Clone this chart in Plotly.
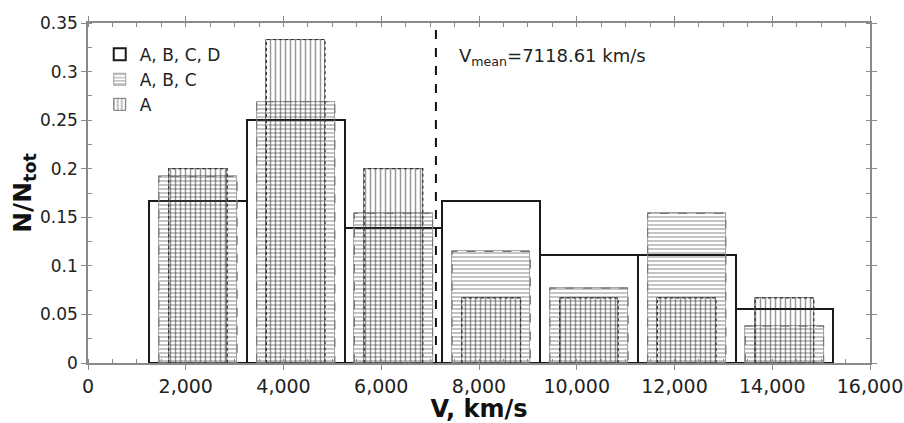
import plotly.graph_objects as go

# ---- data ----
v_centers = [2250, 4250, 6250, 8250, 10250, 12250, 14250]
frac_abcd = [0.167, 0.250, 0.139, 0.167, 0.111, 0.111, 0.056]
frac_abc = [0.192, 0.269, 0.154, 0.115, 0.077, 0.154, 0.038]
frac_a = [0.200, 0.333, 0.200, 0.067, 0.067, 0.067, 0.067]
v_mean = 7118.61
series_names = ["A, B, C, D", "A, B, C", "A"]
x_tickvals = [0, 2000, 4000, 6000, 8000, 10000, 12000, 14000, 16000]

# ---- style ----
W_ABCD, W_ABC, W_A = 2000, 1600, 1200
FONT = "DejaVu Sans"


def outline(centers, heights, width):
    xs, ys = [], []
    for c, h in zip(centers, heights):
        x0, x1 = c - width / 2, c + width / 2
        xs += [x0, x0, x1, x1, x0, None]
        ys += [0, h, h, 0, 0, None]
    return xs, ys


fig = go.Figure()

fig.add_trace(go.Bar(
    x=v_centers, y=frac_abcd, width=[W_ABCD] * len(v_centers), name=series_names[0],
    marker=dict(color="rgba(255,255,255,0)", line=dict(color="#1a1a1a", width=2)),
))
fig.add_trace(go.Bar(
    x=v_centers, y=frac_abc, width=[W_ABC] * len(v_centers), name=series_names[1],
    marker=dict(color="rgba(0,0,0,0)", line=dict(color="#888", width=0.8),
                pattern=dict(shape="-", fgcolor="#555", bgcolor="rgba(0,0,0,0)",
                             size=4, solidity=0.35)),
))
fig.add_trace(go.Bar(
    x=v_centers, y=frac_a, width=[W_A] * len(v_centers), name=series_names[2],
    marker=dict(color="rgba(0,0,0,0)", line=dict(color="#555", width=0.8),
                pattern=dict(shape="|", fgcolor="#333", bgcolor="rgba(0,0,0,0)",
                             size=5, solidity=0.3)),
))

xs, ys = outline(v_centers, frac_abc, W_ABC)
fig.add_trace(go.Scatter(x=xs, y=ys, mode="lines", showlegend=False, hoverinfo="skip",
                         line=dict(color="#777", width=1.2, dash="dash")))
xs, ys = outline(v_centers, frac_a, W_A)
fig.add_trace(go.Scatter(x=xs, y=ys, mode="lines", showlegend=False, hoverinfo="skip",
                         line=dict(color="#333", width=1.2, dash="dot")))

fig.add_trace(go.Scatter(x=[v_mean, v_mean], y=[0, 0.35], mode="lines", showlegend=False,
                         hoverinfo="skip", line=dict(color="#111", width=2, dash="dash")))

fig.add_annotation(x=7540, y=0.315, xref="x", yref="y", xanchor="left", yanchor="middle",
                   showarrow=False,
                   text=f"V<sub>mean</sub>={v_mean:.2f} km/s",
                   font=dict(family=FONT, size=18, color="#222"))

axis_common = dict(
    showgrid=False, zeroline=False, showline=True, linecolor="#8a8a8a", linewidth=1.5,
    mirror="ticks", ticks="outside", ticklen=5, tickcolor="#8a8a8a", tickwidth=1,
    automargin=False,
)

fig.update_layout(
    width=904, height=423,
    margin=dict(l=88, r=34, t=23, b=60),
    plot_bgcolor="white", paper_bgcolor="white",
    barmode="overlay", bargap=0,
    font=dict(family=FONT, color="#222"),
    legend=dict(x=0.015, y=0.96, xanchor="left", yanchor="top",
                bgcolor="rgba(255,255,255,0)", font=dict(family=FONT, size=17, color="#222"),
                tracegroupgap=0, itemwidth=30),
    xaxis=dict(range=[0, 16000], tickvals=x_tickvals, tickformat=",d",
               tickfont=dict(family=FONT, size=19, color="#222"),
               minor=dict(dtick=500, ticks="inside", ticklen=4, tickcolor="#8a8a8a"),
               title=dict(text="<b>V, km/s</b>", font=dict(family=FONT, size=24, color="#111"),
                          standoff=6),
               **axis_common),
    yaxis=dict(range=[0, 0.35], dtick=0.05,
               tickfont=dict(family=FONT, size=17, color="#222"),
               minor=dict(dtick=0.025, ticks="inside", ticklen=4, tickcolor="#8a8a8a"),
               title=dict(text="<b>N/N<sub>tot</sub></b>", font=dict(family=FONT, size=25, color="#111"),
                          standoff=0),
               **axis_common),
)

fig.write_html("out.html")
